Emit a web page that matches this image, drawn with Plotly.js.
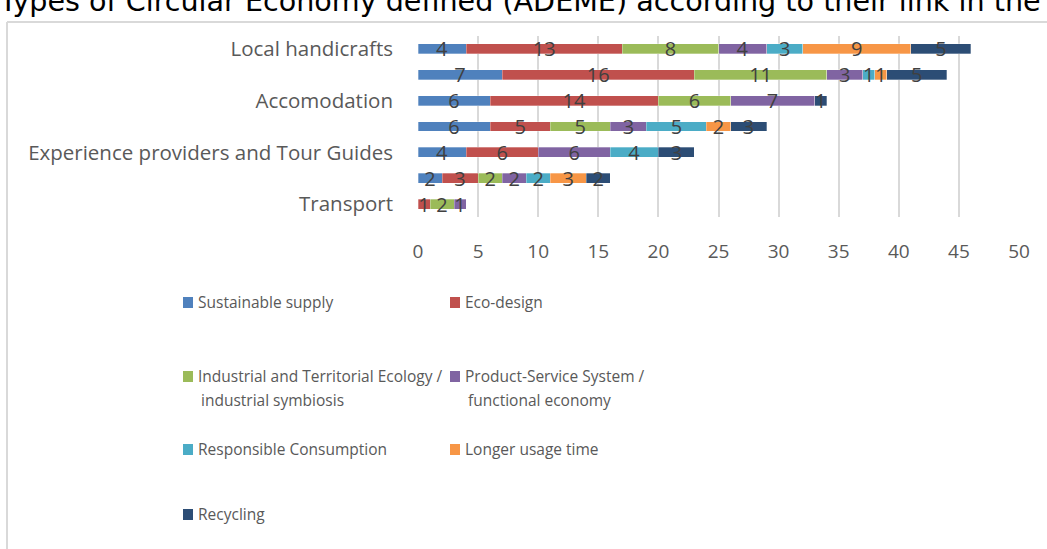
<!DOCTYPE html>
<html>
<head>
<meta charset="utf-8">
<script src="https://cdn.plot.ly/plotly-3.0.1.min.js"></script>
<style>html,body{margin:0;padding:0;background:#fff;}#chart{width:1047px;height:549px;}</style>
</head>
<body>
<div id="chart"></div>
<script>
// Categories from bottom to top (null = row without a visible label)
const categories = ["Transport", null, "Experience providers and Tour Guides", null, "Accomodation", null, "Local handicrafts"];
const seriesNames = ["Sustainable supply", "Eco-design", "Industrial and Territorial Ecology /<br>industrial symbiosis", "Product-Service System /<br>functional economy", "Responsible Consumption", "Longer usage time", "Recycling"];
const seriesColors = ["#4F81BD", "#C0504D", "#9BBB59", "#8064A2", "#4BACC6", "#F79646", "#2C4D75"];
const sustainableSupply = [null, 2, 4, 6, 6, 7, 4];
const ecoDesign = [1, 3, 6, 5, 14, 16, 13];
const industrialEcology = [2, 2, null, 5, 6, 11, 8];
const productService = [1, 2, 6, 3, 7, 3, 4];
const responsibleConsumption = [null, 2, 4, 5, null, 1, 3];
const longerUsage = [null, 3, null, 2, null, 1, 9];
const recycling = [null, 2, 3, 3, 1, 5, 5];
const xTicks = [0, 5, 10, 15, 20, 25, 30, 35, 40, 45, 50];
const titleText = "Types of Circular Economy defined (ADEME) according to their link in the";

const seriesValues = [sustainableSupply, ecoDesign, industrialEcology, productService, responsibleConsumption, longerUsage, recycling];
const yIdx = categories.map((c, i) => i);
const W = 1047, H = 549;
const mL = 418, mR = 28, mT = 36, mB = 332;
const pw = W - mL - mR, ph = H - mT - mB;
const px2x = p => (p - mL) / pw;
const py2y = p => (H - mB - p) / ph;

const traces = seriesValues.map((vals, k) => ({
  type: 'bar', orientation: 'h',
  name: seriesNames[k],
  x: vals, y: yIdx,
  marker: {color: seriesColors[k], line: {color: 'rgba(255,255,255,0.6)', width: 0.5}},
  text: vals.map(v => v == null ? '' : String(v)),
  textposition: 'inside', insidetextanchor: 'middle', textangle: 0,
  constraintext: 'none', cliponaxis: false,
  textfont: {family: 'Open Sans, sans-serif', size: 20, color: '#404040'},
  hoverinfo: 'x+name', showlegend: false
}));

const lab = categories.map((c, i) => c == null ? null : i).filter(v => v != null);
const shapes = [
  {type: 'line', xref: 'paper', yref: 'paper', x0: px2x(7), x1: px2x(1050), y0: py2y(22), y1: py2y(22), line: {color: '#d9d9d9', width: 2}},
  {type: 'line', xref: 'paper', yref: 'paper', x0: px2x(7), x1: px2x(7), y0: py2y(22), y1: py2y(552), line: {color: '#d9d9d9', width: 2}}
];
const annotations = [];
// legend grid (positions in px)
const legendPos = [[183, 302], [450, 302], [183, 376], [450, 376], [183, 449], [450, 449], [183, 514]];
seriesNames.forEach((n, k) => {
  const [lx, ly] = legendPos[k];
  shapes.push({type: 'rect', xref: 'paper', yref: 'paper', x0: px2x(lx), x1: px2x(lx + 10), y0: py2y(ly - 5), y1: py2y(ly + 6), fillcolor: seriesColors[k], line: {width: 0}});
  n.split('<br>').forEach((line, j) => {
    annotations.push({xref: 'paper', yref: 'paper', x: px2x(lx + 13 + (j > 0 ? 3 : 0)), y: py2y(ly + 24 * j), xanchor: 'left', yanchor: 'middle', align: 'left', showarrow: false,
      text: line, font: {family: 'Open Sans, sans-serif', size: 15.5, color: '#595959'}});
  });
});

const layout = {
  width: W, height: H,
  margin: {l: mL, r: mR, t: mT, b: mB, pad: 0},
  paper_bgcolor: '#fff', plot_bgcolor: '#fff',
  barmode: 'stack', bargap: 0.615,
  showlegend: false,
  title: {text: titleText, x: 520 / W, xref: 'container', xanchor: 'center', y: 1 - 1 / H, yref: 'container', yanchor: 'middle',
    pad: {l: 0, r: 0, t: 0, b: 0},
    font: {family: 'DejaVu Sans, sans-serif', size: 28.6, color: '#000'}},
  xaxis: {range: [0, 50], tickvals: xTicks, ticktext: xTicks.map(String), showgrid: true, gridcolor: '#d9d9d9', gridwidth: 2,
    zeroline: false, showline: false, ticks: '', ticklabelstandoff: 21,
    tickfont: {family: 'Open Sans, sans-serif', size: 19, color: '#595959'}, fixedrange: true},
  yaxis: {range: [-0.5, 6.5], tickvals: lab, ticktext: lab.map(i => categories[i]), showgrid: false, zeroline: false, showline: false,
    ticks: '', ticklabelstandoff: 24, tickfont: {family: 'Open Sans, sans-serif', size: 20.5, color: '#595959'}, fixedrange: true},
  shapes: shapes, annotations: annotations
};
Plotly.newPlot('chart', traces, layout, {displayModeBar: false, staticPlot: true});
</script>
</body>
</html>
